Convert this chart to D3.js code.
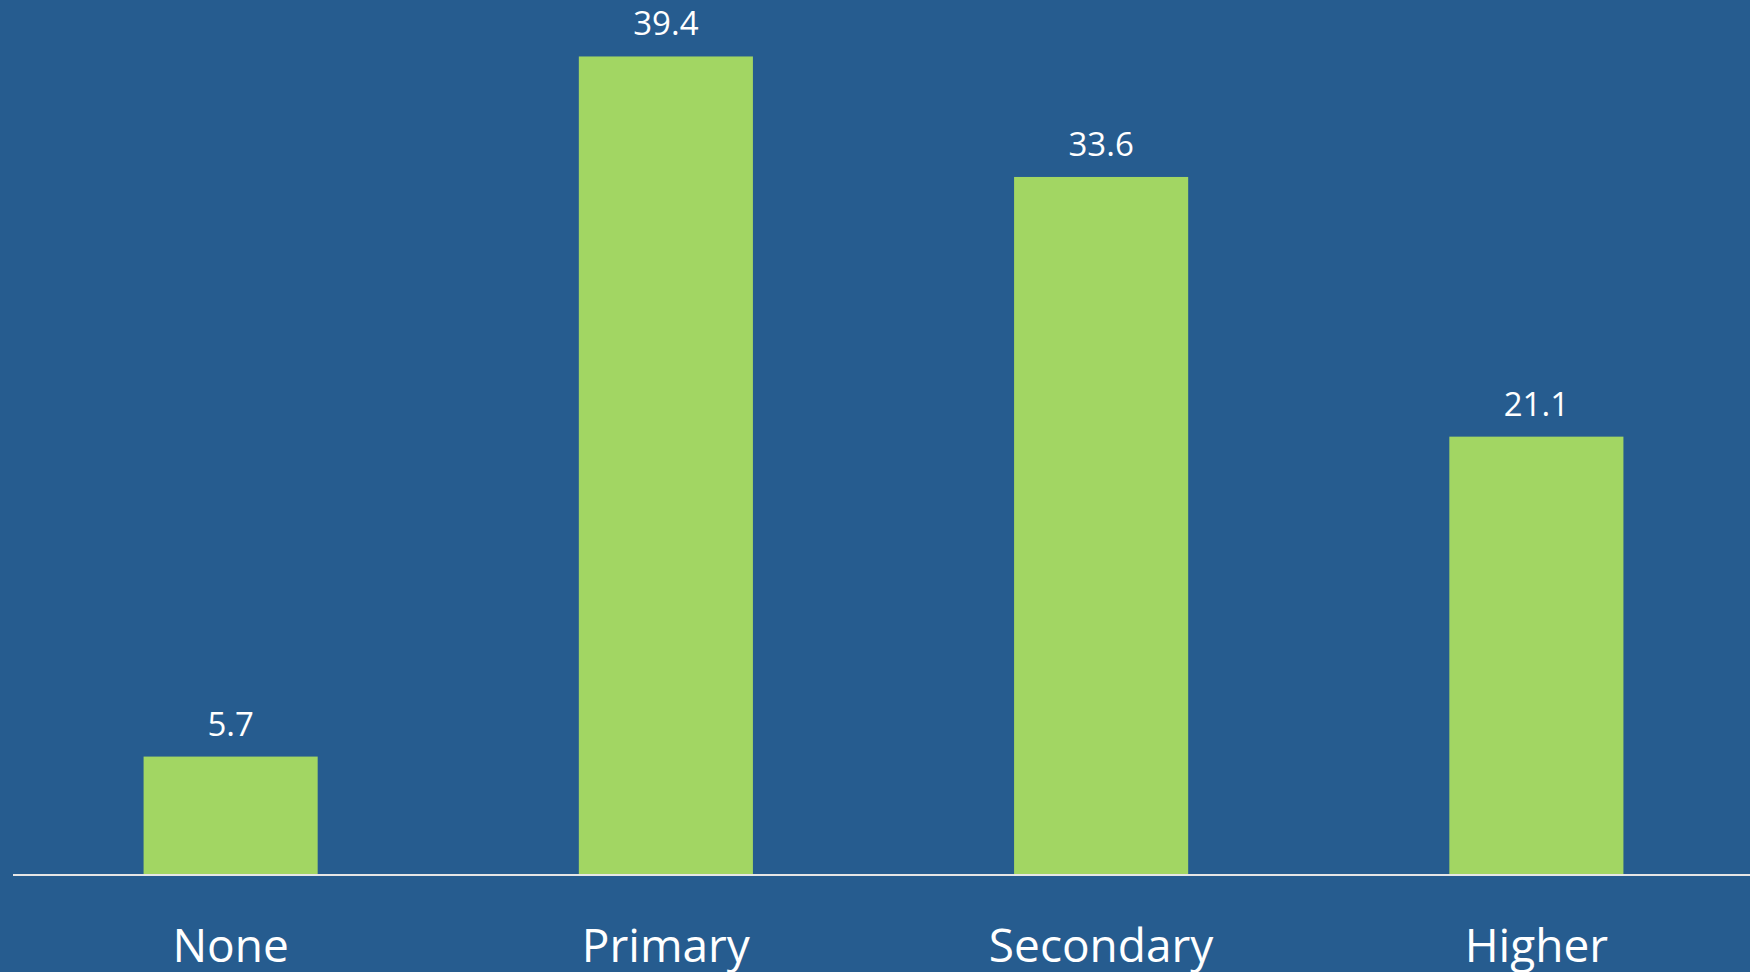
<!DOCTYPE html>
<html>
<head>
<meta charset="utf-8">
<script src="https://cdn.jsdelivr.net/npm/d3@7"></script>
<style>
html,body{margin:0;padding:0;background:#265C8F;overflow:hidden;}
svg{display:block;}
</style>
</head>
<body>
<svg id="chart" width="1750" height="972"></svg>
<script>
const categories = ["None", "Primary", "Secondary", "Higher"];
const values = [5.7, 39.4, 33.6, 21.1];
const valueLabels = ["5.7", "39.4", "33.6", "21.1"];

const W = 1750, H = 972;
const svg = d3.select("#chart");
svg.append("rect").attr("width", W).attr("height", H).attr("fill", "#265C8F");

const x = d3.scaleBand().domain(categories).range([13, 1754]).padding(0);
const y = d3.scaleLinear().domain([0, 40]).range([875, 44]);
const barW = x.bandwidth() * 0.4;

svg.selectAll("rect.bar").data(values).enter().append("rect")
  .attr("class", "bar")
  .attr("x", (d, i) => x(categories[i]) + x.bandwidth() / 2 - barW / 2)
  .attr("y", d => y(d))
  .attr("width", barW)
  .attr("height", d => y(0) - y(d))
  .attr("fill", "#A2D663");

svg.selectAll("text.val").data(values).enter().append("text")
  .attr("class", "val")
  .attr("x", (d, i) => x(categories[i]) + x.bandwidth() / 2)
  .attr("y", d => y(d) - 21)
  .attr("text-anchor", "middle")
  .attr("font-family", "'Open Sans', sans-serif")
  .attr("font-size", 33)
  .attr("fill", "#FFFFFF")
  .text((d, i) => valueLabels[i]);

// baseline axis
const axis = d3.axisBottom(x).tickSize(0).tickPadding(0);
const g = svg.append("g").attr("transform", `translate(0,${y(0)})`).call(axis);
g.select(".domain").attr("stroke", "#E6E6E6").attr("stroke-width", 2).attr("d", `M13,0H1750`);
g.selectAll(".tick text")
  .attr("y", 87)
  .attr("dy", 0)
  .attr("font-family", "'Open Sans', sans-serif")
  .attr("font-size", 46)
  .attr("fill", "#FFFFFF");
</script>
</body>
</html>
